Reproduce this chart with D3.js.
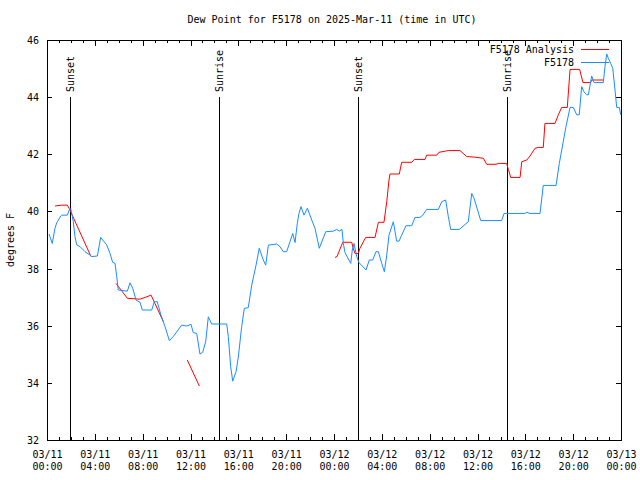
<!DOCTYPE html>
<html>
<head>
<meta charset="utf-8">
<script src="https://cdn.jsdelivr.net/npm/d3@7"></script>
<style>
  html, body { margin: 0; padding: 0; background: #fff; }
  svg { display: block; }
  text { font-family: "DejaVu Sans Mono", monospace; font-size: 10px; fill: #000; }
</style>
</head>
<body>
<svg id="chart" width="640" height="480"></svg>
<script>
// ---------------- DATA ----------------
const chartTitle = "Dew Point for F5178 on 2025-Mar-11 (time in UTC)";
const yLabel = "degrees F";
const seriesNames = ["F5178 Analysis", "F5178"];

// hours since 2025-03-11 00:00 UTC
const obsHours = [0.17,0.44,0.67,0.81,1.15,1.23,1.70,1.86,1.98,2.07,2.20,2.34,2.48,2.76,3.18,3.60,3.74,4.21,4.49,4.77,4.99,5.27,5.49,5.69,5.83,5.96,6.72,6.94,7.17,7.44,7.78,7.97,8.76,8.97,9.22,9.53,9.87,10.23,10.56,11.26,11.68,12.04,12.23,12.52,12.79,13.02,13.27,13.49,13.77,15.03,15.16,15.36,15.53,15.81,16.00,16.28,16.50,16.83,17.12,17.48,17.75,18.09,18.29,18.51,19.21,19.48,19.76,20.04,20.32,20.55,20.74,20.93,21.07,21.24,21.49,21.77,22.14,22.41,22.77,23.31,23.94,24.23,24.44,24.67,24.78,24.92,25.40,25.53,25.67,25.90,26.09,26.68,26.95,27.24,27.51,27.71,27.99,28.21,28.41,28.60,28.96,29.24,29.44,29.66,30.02,30.50,30.77,31.19,31.42,31.75,32.72,33.01,33.34,33.56,33.76,34.48,35.23,35.52,35.71,36.27,38.02,38.22,39.97,40.12,40.39,41.23,41.50,42.57,42.84,43.40,43.74,44.01,44.30,44.51,44.71,44.90,45.13,45.27,45.55,45.74,46.52,46.66,46.81,46.94,47.14,47.31,47.50,47.64,47.86,47.98];
const obsValues = [39.21,38.88,39.41,39.60,39.84,39.87,39.87,40.05,40.10,39.93,39.64,39.12,38.83,38.77,38.59,38.47,38.42,38.44,39.09,38.94,38.83,38.53,38.22,38.18,37.72,37.25,37.21,37.50,37.31,36.90,36.82,36.55,36.55,36.84,36.84,36.37,35.97,35.48,35.62,36.02,35.99,36.05,35.76,35.73,35.01,35.07,35.44,36.31,36.06,36.06,35.62,34.57,34.06,34.39,34.91,35.97,36.61,36.63,37.42,38.12,38.71,38.30,38.12,38.82,38.86,38.77,38.59,38.59,38.94,39.23,38.91,39.58,39.93,40.17,39.87,40.11,39.70,39.41,38.71,39.29,39.31,39.37,39.31,39.37,38.88,38.56,38.18,38.65,38.88,38.42,38.21,37.95,38.30,38.30,38.59,38.59,38.18,37.89,38.47,39.17,39.64,38.96,38.96,39.17,39.50,39.50,39.79,39.79,39.87,40.07,40.07,40.34,40.40,39.82,39.37,39.37,39.64,40.63,40.46,39.68,39.68,39.93,39.93,39.97,39.93,39.93,40.91,40.91,41.68,42.97,43.64,43.64,43.38,43.38,44.37,44.19,44.08,44.08,44.74,44.51,44.51,45.07,45.51,45.36,45.18,45.01,44.25,43.64,43.64,43.38];

// analysis series; null marks a gap
const anaHours = [0.67,1.23,1.70,1.86,3.68, 4.5, 5.77,6.72,7.78,8.20,8.70,9.03,9.73, 10.5, 11.73,12.74, 18.0, 24.08,24.25,24.73,25.48,25.61,25.75,26.03,26.17,26.65,27.43,27.71,28.18,28.41,28.60,28.68,29.46,29.66,30.50,30.72,31.61,31.75,32.59,32.78,33.56,34.54,35.10,35.79,36.49,36.77,37.55,37.74,38.44,38.58,38.78,39.56,39.70,40.12,40.39,40.81,41.08,41.50,41.64,42.48,42.76,43.04,43.51,43.74,44.54,44.82,45.43,45.58,46.55];
const anaValues = [40.19,40.22,40.22,40.10,38.42, null, 37.48,36.96,36.93,36.99,37.07,36.78,36.14, null, 34.80,33.89, null, 38.39,38.42,38.92,38.92,38.71,38.53,38.53,38.71,39.09,39.09,39.62,39.62,40.34,41.10,41.31,41.31,41.72,41.72,41.82,41.82,41.97,41.97,42.07,42.13,42.13,41.92,41.90,41.86,41.65,41.65,41.68,41.68,41.47,41.19,41.19,41.74,41.80,41.94,42.21,42.24,42.24,43.08,43.08,43.38,43.64,43.64,44.97,44.97,44.51,44.51,44.60,44.60];

const sunLabels = ["Sunset", "Sunrise", "Sunset", "Sunrise"];
const sunHours = [1.95, 14.41, 26.04, 38.49];

const yTicks = [32, 34, 36, 38, 40, 42, 44, 46];
const xMajorHours = [0, 4, 8, 12, 16, 20, 24, 28, 32, 36, 40, 44, 48];

// ---------------- DRAW ----------------
(function () {
const svg = d3.select("#chart");
const HOUR = 3600 * 1000;
const t0 = Date.UTC(2025, 2, 11, 0, 0);
const toDate = h => new Date(t0 + h * HOUR);

const pL = 47, pR = 621, pT = 40, pB = 440;
const x = d3.scaleUtc().domain([toDate(0), toDate(48)]).range([pL, pR]);
const y = d3.scaleLinear().domain([32, 46]).range([pB, pT]);

const fmtDate = d3.utcFormat("%m/%d");
const fmtTime = d3.utcFormat("%H:%M");

const majorDates = xMajorHours.map(toDate);
const minorDates = d3.range(0, 49).filter(h => h % 4 !== 0).map(toDate);

// minor ticks bottom and top
svg.append("g").attr("transform", `translate(0,${pB})`)
  .call(d3.axisBottom(x).tickValues(minorDates).tickSize(-3).tickFormat(""))
  .call(g => g.select(".domain").remove());
svg.append("g").attr("transform", `translate(0,${pT})`)
  .call(d3.axisTop(x).tickValues(minorDates).tickSize(-3).tickFormat(""))
  .call(g => g.select(".domain").remove());

// major bottom axis with two-line labels
const gx = svg.append("g").attr("transform", `translate(0,${pB})`)
  .call(d3.axisBottom(x).tickValues(majorDates).tickSize(-6).tickPadding(8).tickFormat(""));
gx.select(".domain").remove();
gx.selectAll(".tick text").each(function(d) {
  const t = d3.select(this).attr("y", 18).attr("dy", null)
    .style("font-family", "DejaVu Sans Mono, monospace").style("font-size", "10px");
  t.append("tspan").attr("x", 0).attr("y", 18).text(fmtDate(d));
  t.append("tspan").attr("x", 0).attr("y", 30).text(fmtTime(d));
});
svg.append("g").attr("transform", `translate(0,${pT})`)
  .call(d3.axisTop(x).tickValues(majorDates).tickSize(-6).tickFormat(""))
  .call(g => g.select(".domain").remove());

// y axes
const gy = svg.append("g").attr("transform", `translate(${pL},0)`)
  .call(d3.axisLeft(y).tickValues(yTicks).tickSize(-5).tickPadding(8).tickFormat(d3.format("d")));
gy.select(".domain").remove();
gy.selectAll(".tick text").style("font-family", "DejaVu Sans Mono, monospace").style("font-size", "10px").attr("dy", "0.35em");
svg.append("g").attr("transform", `translate(${pR},0)`)
  .call(d3.axisRight(y).tickValues(yTicks).tickSize(-5).tickFormat(""))
  .call(g => g.select(".domain").remove());

svg.selectAll(".tick line").attr("stroke", "#000").attr("shape-rendering", "crispEdges");

// frame
svg.append("rect").attr("x", pL + 0.5).attr("y", pT + 0.5)
  .attr("width", pR - pL).attr("height", pB - pT)
  .attr("fill", "none").attr("stroke", "#000").attr("shape-rendering", "crispEdges");

// sun events
sunHours.forEach((h, i) => {
  const sx = Math.round(x(toDate(h))) + 0.5;
  svg.append("line").attr("x1", sx).attr("x2", sx).attr("y1", 97).attr("y2", pB)
    .attr("stroke", "#000").attr("shape-rendering", "crispEdges");
  svg.append("text").attr("transform", `translate(${sx + 3.5},92) rotate(-90)`)
    .attr("text-anchor", "start").text(sunLabels[i]);
});

// lines
const lineGen = d3.line()
  .defined(d => d[1] !== null)
  .x(d => x(toDate(d[0])))
  .y(d => y(d[1]));

const anaData = anaHours.map((h, i) => [h, anaValues[i]]);
const obsData = obsHours.map((h, i) => [h, obsValues[i]]);

const RED = "#ff0000", BLUE = "#1a8cff";
svg.append("path").datum(anaData).attr("d", lineGen)
  .attr("fill", "none").attr("stroke", RED).attr("stroke-width", 1);
svg.append("path").datum(obsData).attr("d", lineGen)
  .attr("fill", "none").attr("stroke", BLUE).attr("stroke-width", 1);

// legend
const legendColors = [RED, BLUE];
seriesNames.forEach((name, i) => {
  const ly = 49 + i * 13;
  svg.append("text").attr("x", 574).attr("y", ly).attr("dy", "0.35em")
    .attr("text-anchor", "end").text(name);
  svg.append("line").attr("x1", 581).attr("x2", 609).attr("y1", ly + 0.5).attr("y2", ly + 0.5)
    .attr("stroke", legendColors[i]).attr("shape-rendering", "crispEdges");
});

// title and y label
svg.append("text").attr("x", 332).attr("y", 23).attr("text-anchor", "middle").text(chartTitle);
svg.append("text").attr("transform", "translate(14,240) rotate(-90)")
  .attr("text-anchor", "middle").text(yLabel);
})();
</script>
</body>
</html>
